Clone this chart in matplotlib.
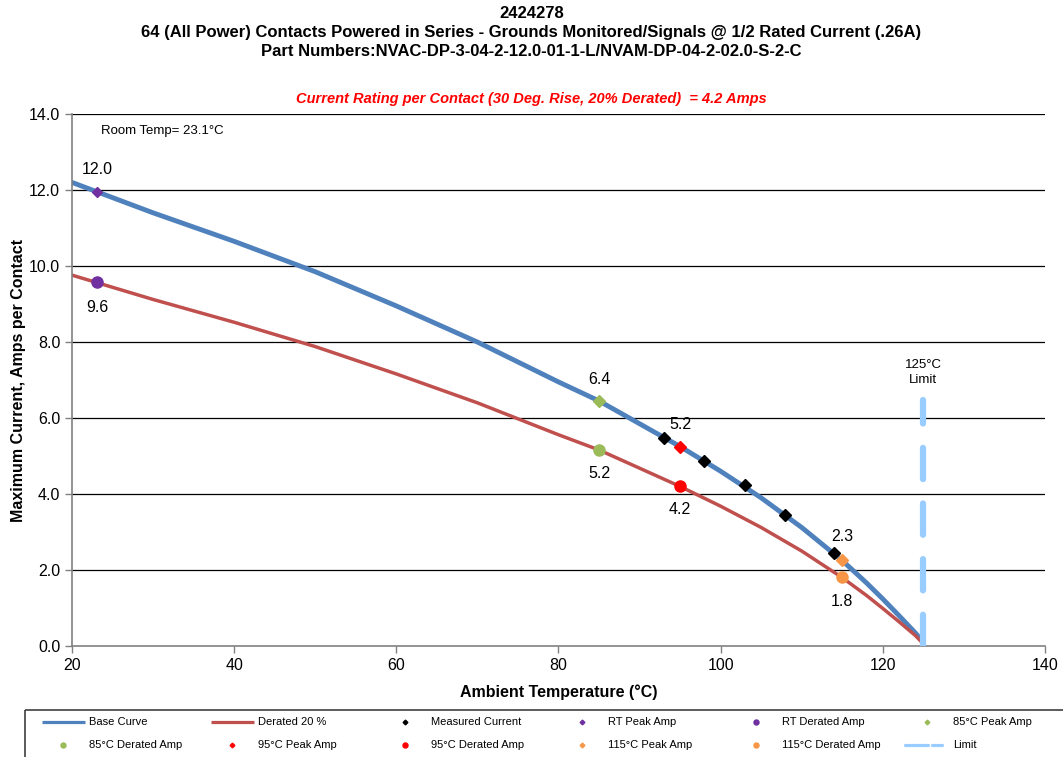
import matplotlib
matplotlib.use("Agg")
import matplotlib.pyplot as plt
from matplotlib.patches import Rectangle

plt.rcParams['font.family'] = ['Liberation Sans', 'DejaVu Sans']

# Base (peak) current curve and 20 % derated curve
curve_temp = [20, 30, 40, 50, 60, 70, 80, 85, 90, 95, 100, 105, 110, 115, 118, 120, 122, 124, 125]
base_amps = [12.2, 11.4, 10.65, 9.85, 8.95, 8.0, 6.95, 6.45, 5.85, 5.25, 4.6, 3.9, 3.12, 2.25,
             1.66, 1.24, 0.8, 0.35, 0.1]
derated_amps = [9.76, 9.12, 8.52, 7.88, 7.16, 6.4, 5.56, 5.16, 4.68, 4.2, 3.68, 3.12, 2.5, 1.8,
                1.33, 0.99, 0.64, 0.28, 0.06]

# Measured points
measured_temp = [93, 98, 103, 108, 114]
measured_amps = [5.47, 4.88, 4.23, 3.45, 2.45]

# Peak / derated points at the labelled temperatures
rt_temp = 23.1
rt_peak, rt_derated = 11.96, 9.58
t85_peak, t85_derated = 6.44, 5.16
t95_peak, t95_derated = 5.24, 4.2
t115_peak, t115_derated = 2.27, 1.81

limit_temp = [125, 125]
limit_amps = [0.0, 6.47]

x_ticks = [20, 40, 60, 80, 100, 120, 140]
y_ticks = [0, 2, 4, 6, 8, 10, 12, 14]

blue = '#4F81BD'
red = '#C0504D'
purple = '#7030A0'
green = '#9BBB59'
bright_red = '#FF0000'
orange = '#F79646'
limit_blue = '#99CCFF'

fig = plt.figure(figsize=(10.63, 7.57), dpi=100)
ax = fig.add_axes([0.0677, 0.1466, 0.9153, 0.7028])

for y in y_ticks[1:]:
    ax.axhline(y, color='black', lw=0.9, zorder=1)

ax.plot(curve_temp, base_amps, color=blue, lw=3.5, zorder=2, solid_capstyle='round',
        solid_joinstyle='round')
ax.plot(curve_temp, derated_amps, color=red, lw=2.5, zorder=2, solid_capstyle='round',
        solid_joinstyle='round')
ax.plot(limit_temp, limit_amps, color=limit_blue, lw=4.5, dashes=(5.0, 3.9),
        dash_capstyle='round', zorder=3)

ax.plot(measured_temp, measured_amps, 'D', color='black', ms=6, zorder=4, ls='none')
ax.plot([rt_temp], [rt_peak], 'D', color=purple, ms=5.5, zorder=4)
ax.plot([rt_temp], [rt_derated], 'o', color=purple, ms=8, zorder=4)
ax.plot([85], [t85_peak], 'D', color=green, ms=6, zorder=4)
ax.plot([85], [t85_derated], 'o', color=green, ms=8, zorder=4)
ax.plot([95], [t95_peak], 'D', color=bright_red, ms=6, zorder=4)
ax.plot([95], [t95_derated], 'o', color=bright_red, ms=8, zorder=4)
ax.plot([115], [t115_peak], 'D', color=orange, ms=6, zorder=4)
ax.plot([115], [t115_derated], 'o', color=orange, ms=8, zorder=4)

lab_kw = dict(fontsize=11.5, ha='center', va='center', zorder=5)
ax.text(rt_temp, rt_peak + 0.58, f'{rt_peak:.1f}', **lab_kw)
ax.text(rt_temp, rt_derated - 0.66, f'{rt_derated:.1f}', **lab_kw)
ax.text(85, t85_peak + 0.57, f'{t85_peak:.1f}', **lab_kw)
ax.text(85, t85_derated - 0.63, f'{t85_derated:.1f}', **lab_kw)
ax.text(95, t95_peak + 0.58, f'{t95_peak:.1f}', **lab_kw)
ax.text(95, t95_derated - 0.62, f'{t95_derated:.1f}', **lab_kw)
ax.text(115, t115_peak + 0.6, f'{t115_peak:.1f}', **lab_kw)
ax.text(115, t115_derated - 0.65, f'{t115_derated:.1f}', **lab_kw)

ax.text(125, 7.2, '125°C\nLimit', ha='center', va='center', fontsize=9.5, linespacing=1.25)
ax.text(23.6, 13.55, 'Room Temp= 23.1°C', ha='left', va='center', fontsize=9.5)

ax.set_xlim(20, 140)
ax.set_ylim(0, 14)
ax.set_xticks(x_ticks)
ax.set_yticks(y_ticks)
ax.set_xticklabels([str(t) for t in x_ticks], fontsize=11.5)
ax.set_yticklabels([f'{v:.1f}' for v in y_ticks], fontsize=11.5)
ax.tick_params(direction='out', length=5, color='#808080', width=1)
for side in ('top', 'right'):
    ax.spines[side].set_visible(False)
for side in ('left', 'bottom'):
    ax.spines[side].set_color('#808080')
    ax.spines[side].set_linewidth(1.2)

ax.set_xlabel('Ambient Temperature (°C)', fontsize=11.5, fontweight='bold', labelpad=8)
ax.set_ylabel('Maximum Current, Amps per Contact', fontsize=11.5, fontweight='bold', labelpad=2)

fig.text(0.5, 1 - 14 / 757, '2424278', ha='center', va='center', fontsize=12, fontweight='bold')
fig.text(0.5, 1 - 33 / 757,
         '64 (All Power) Contacts Powered in Series - Grounds Monitored/Signals @ 1/2 Rated Current (.26A)',
         ha='center', va='center', fontsize=12, fontweight='bold')
fig.text(0.5, 1 - 51 / 757, 'Part Numbers:NVAC-DP-3-04-2-12.0-01-1-L/NVAM-DP-04-2-02.0-S-2-C',
         ha='center', va='center', fontsize=12, fontweight='bold')
fig.text(0.5, 1 - 99 / 757, 'Current Rating per Contact (30 Deg. Rise, 20% Derated)  = 4.2 Amps',
         ha='center', va='center', fontsize=10.5, fontweight='bold', style='italic', color=bright_red)

# Legend panel below the plot, laid out on a 6 x 2 grid in pixel units
lax = fig.add_axes([0, 0, 1, 1], zorder=-1)
lax.set_xlim(0, 1063)
lax.set_ylim(757, 0)
lax.axis('off')
lax.add_patch(Rectangle((25, 710), 1045, 60, fill=False, edgecolor='#404040', lw=1.2))

col_text_x = [89, 258, 431, 608, 782, 953]
row_y = [722, 745]
legend_rows = [
    [('line', blue, 'Base Curve'), ('line', red, 'Derated 20 %'),
     ('D', 'black', 'Measured Current'), ('D', purple, 'RT Peak Amp'),
     ('o', purple, 'RT Derated Amp'), ('D', green, '85°C Peak Amp')],
    [('o', green, '85°C Derated Amp'), ('D', bright_red, '95°C Peak Amp'),
     ('o', bright_red, '95°C Derated Amp'), ('D', orange, '115°C Peak Amp'),
     ('o', orange, '115°C Derated Amp'), ('dash', limit_blue, 'Limit')],
]
for r, row in enumerate(legend_rows):
    yy = row_y[r]
    for c, (kind, col, text) in enumerate(row):
        tx = col_text_x[c]
        if kind == 'line':
            lax.plot([tx - 47, tx - 4], [yy, yy], color=col, lw=2.3, solid_capstyle='butt')
        elif kind == 'dash':
            lax.plot([tx - 48, tx - 25], [yy, yy], color=col, lw=2.3, solid_capstyle='round')
            lax.plot([tx - 21, tx - 11], [yy, yy], color=col, lw=2.3, solid_capstyle='round')
        else:
            lax.plot([tx - 26], [yy], kind, color=col, ms=2.4 if kind == 'D' else 3.6)
        lax.text(tx, yy, text, ha='left', va='center', fontsize=8)

fig.savefig('out.png', dpi=100)
